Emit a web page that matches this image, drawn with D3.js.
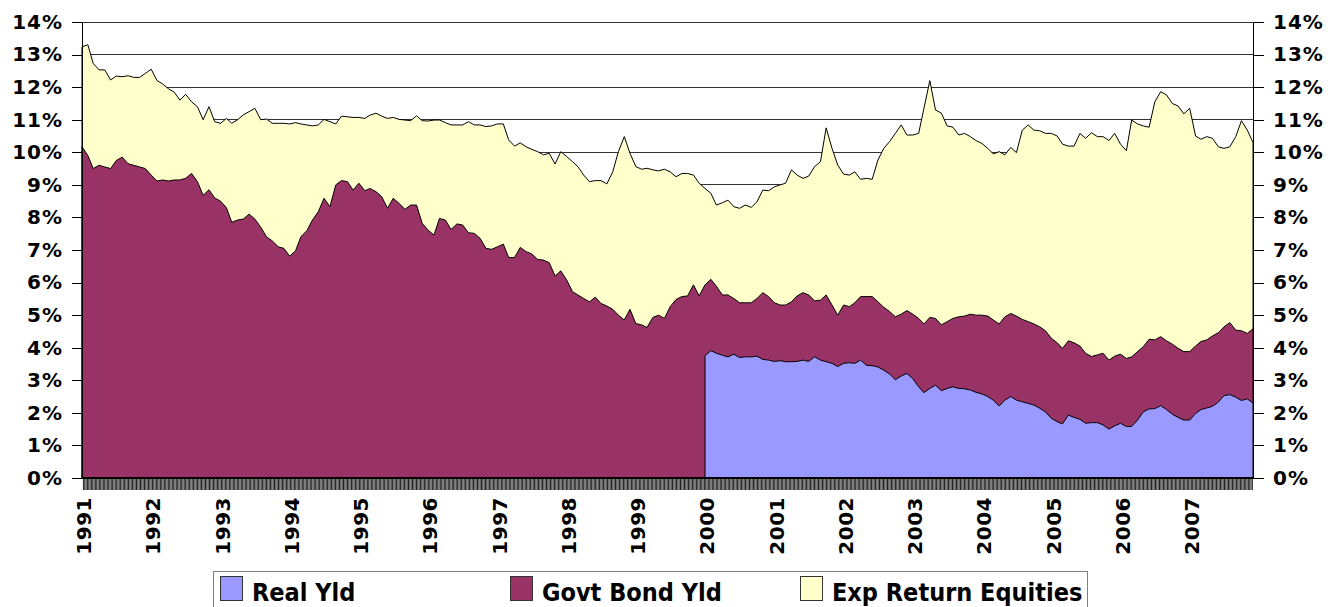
<!DOCTYPE html>
<html>
<head>
<meta charset="utf-8">
<script src="https://cdn.jsdelivr.net/npm/d3@7/dist/d3.min.js"></script>
<style>
    body { margin: 0; background: #fff; }
    svg text { font-family: "DejaVu Sans", Verdana, sans-serif; font-weight: bold; fill: #000; }
    .legend text { font-family: "DejaVu Sans Condensed", "DejaVu Sans", sans-serif; }
</style>
</head>
<body>
<svg id="chart" width="1342" height="607"></svg>
<script>
// monthly values, first month Jan 1991
var startMonth = new Date(1991, 0, 1);
// real yield series only starts in Jan 2000
var realStart = new Date(2000, 0, 1);

var expReturnEquities = [
    13.24, 13.3, 12.73, 12.53, 12.53, 12.22, 12.34, 12.32, 12.35, 12.3, 12.3, 12.42,
    12.55, 12.2, 12.1, 11.95, 11.85, 11.6, 11.78, 11.55, 11.4, 11.0, 11.4, 10.94,
    10.89, 11.04, 10.89, 11.0, 11.15, 11.25, 11.35, 11.0, 11.02, 10.89, 10.89, 10.89,
    10.87, 10.91, 10.87, 10.84, 10.81, 10.84, 11.01, 10.94, 10.87, 11.11, 11.09, 11.07,
    11.07, 11.04, 11.14, 11.2, 11.11, 11.04, 11.07, 11.01, 10.99, 10.97, 11.12, 10.97,
    10.96, 10.99, 10.99, 10.91, 10.84, 10.84, 10.84, 10.94, 10.84, 10.84, 10.79, 10.81,
    10.87, 10.87, 10.38, 10.19, 10.29, 10.17, 10.09, 10.02, 9.92, 9.97, 9.64, 10.02,
    9.87, 9.71, 9.56, 9.3, 9.1, 9.13, 9.13, 9.03, 9.4, 10.02, 10.48, 9.97,
    9.56, 9.48, 9.51, 9.46, 9.43, 9.48, 9.4, 9.25, 9.35, 9.35, 9.3, 9.05,
    8.89, 8.74, 8.38, 8.45, 8.53, 8.33, 8.28, 8.38, 8.31, 8.48, 8.84, 8.82,
    8.94, 9.0, 9.05, 9.46, 9.3, 9.2, 9.27, 9.56, 9.71, 10.75, 10.12, 9.61,
    9.33, 9.3, 9.4, 9.17, 9.2, 9.17, 9.76, 10.12, 10.33, 10.58, 10.84, 10.53,
    10.53, 10.58, 11.35, 12.2, 11.3, 11.2, 10.81, 10.77, 10.53, 10.58, 10.48, 10.36,
    10.27, 10.12, 9.95, 10.02, 9.92, 10.15, 9.99, 10.68, 10.84, 10.68, 10.66, 10.58,
    10.58, 10.5, 10.25, 10.19, 10.19, 10.58, 10.43, 10.6, 10.48, 10.48, 10.36, 10.58,
    10.25, 10.05, 10.99, 10.87, 10.81, 10.77, 11.55, 11.86, 11.76, 11.5, 11.42, 11.18,
    11.35, 10.5, 10.4, 10.48, 10.43, 10.17, 10.12, 10.17, 10.48, 10.97, 10.68, 10.3
];

var govtBondYld = [
    10.17, 9.9, 9.5, 9.6, 9.55, 9.5, 9.75, 9.85, 9.65, 9.6, 9.55, 9.5,
    9.3, 9.12, 9.15, 9.12, 9.15, 9.15, 9.2, 9.35, 9.1, 8.68, 8.85, 8.6,
    8.5, 8.3, 7.85, 7.92, 7.95, 8.1, 7.95, 7.7, 7.4, 7.28, 7.1, 7.05,
    6.81, 6.98, 7.41, 7.59, 7.92, 8.18, 8.59, 8.33, 9.0, 9.13, 9.1, 8.84,
    9.05, 8.82, 8.89, 8.79, 8.64, 8.28, 8.59, 8.43, 8.25, 8.38, 8.38, 7.82,
    7.61, 7.46, 7.97, 7.92, 7.63, 7.8, 7.77, 7.53, 7.51, 7.36, 7.05, 7.02,
    7.1, 7.18, 6.77, 6.77, 7.08, 6.95, 6.88, 6.71, 6.69, 6.61, 6.2, 6.36,
    6.08, 5.72, 5.62, 5.51, 5.41, 5.55, 5.36, 5.28, 5.18, 5.0, 4.85, 5.18,
    4.74, 4.7, 4.62, 4.93, 5.0, 4.9, 5.26, 5.48, 5.57, 5.59, 5.93, 5.59,
    5.93, 6.1, 5.89, 5.62, 5.62, 5.51, 5.38, 5.38, 5.38, 5.51, 5.69, 5.57,
    5.38, 5.31, 5.31, 5.41, 5.59, 5.69, 5.62, 5.44, 5.46, 5.62, 5.31, 5.0,
    5.31, 5.26, 5.38, 5.57, 5.57, 5.57, 5.41, 5.24, 5.11, 4.95, 5.03, 5.14,
    5.03, 4.9, 4.73, 4.93, 4.9, 4.7, 4.8, 4.9, 4.95, 4.97, 5.03, 5.0,
    5.0, 4.97, 4.85, 4.73, 4.95, 5.05, 4.97, 4.87, 4.8, 4.73, 4.64, 4.52,
    4.29, 4.15, 3.98, 4.21, 4.15, 4.05, 3.83, 3.73, 3.78, 3.83, 3.62, 3.74,
    3.8, 3.67, 3.72, 3.88, 4.03, 4.26, 4.24, 4.34, 4.21, 4.11, 3.98, 3.88,
    3.88, 4.05, 4.19, 4.24, 4.36, 4.46, 4.64, 4.77, 4.54, 4.52, 4.44, 4.58
];

var realYld = [
    3.75, 3.91, 3.83, 3.77, 3.72, 3.8, 3.7, 3.72, 3.72, 3.74, 3.64, 3.62,
    3.58, 3.6, 3.57, 3.57, 3.58, 3.62, 3.58, 3.72, 3.62, 3.57, 3.52, 3.42,
    3.52, 3.54, 3.52, 3.62, 3.46, 3.45, 3.41, 3.31, 3.19, 3.02, 3.13, 3.21,
    3.05, 2.8, 2.62, 2.75, 2.85, 2.68, 2.75, 2.8, 2.75, 2.74, 2.7, 2.63,
    2.58, 2.5, 2.39, 2.21, 2.39, 2.5, 2.39, 2.34, 2.29, 2.24, 2.14, 2.03,
    1.83, 1.73, 1.66, 1.93, 1.86, 1.8, 1.68, 1.7, 1.7, 1.63, 1.5, 1.6,
    1.68, 1.58, 1.58, 1.78, 2.03, 2.12, 2.13, 2.22, 2.1, 1.96, 1.86, 1.78,
    1.78, 1.98, 2.1, 2.15, 2.2, 2.33, 2.53, 2.56, 2.48, 2.38, 2.43, 2.3
];

var yTicks = [0, 1, 2, 3, 4, 5, 6, 7, 8, 9, 10, 11, 12, 13, 14];
var seriesNames = ["Real Yld", "Govt Bond Yld", "Exp Return Equities"];
var seriesColors = ["#9999ff", "#993366", "#ffffcc"];

var plotLeft = 82, plotRight = 1253, plotTop = 22, plotBottom = 478;
var svg = d3.select("#chart");

var months = d3.timeMonth.range(startMonth, d3.timeMonth.offset(startMonth, expReturnEquities.length));

var x = d3.scaleTime()
    .domain([months[0], months[months.length - 1]])
    .range([plotLeft, plotRight]);

var y = d3.scaleLinear().domain([0, 14]).range([plotBottom, plotTop]);

// gridlines
svg.append("g").selectAll("line")
    .data(yTicks.filter(function (d) { return d > 0; }))
    .enter().append("line")
    .attr("x1", plotLeft).attr("x2", plotRight)
    .attr("y1", function (d) { return y(d); })
    .attr("y2", function (d) { return y(d); })
    .attr("stroke", "#333")
    .attr("shape-rendering", "crispEdges");

function toPoints(values, start) {
    return values.map(function (v, i) {
        return { date: d3.timeMonth.offset(start, i), v: v };
    });
}

var area = d3.area()
    .x(function (d) { return x(d.date); })
    .y0(y(0))
    .y1(function (d) { return y(d.v); });

// drawn back to front: equities, govt bonds, real yield
var layers = [
    { data: toPoints(expReturnEquities, startMonth), color: seriesColors[2] },
    { data: toPoints(govtBondYld, startMonth), color: seriesColors[1] },
    { data: toPoints(realYld, realStart), color: seriesColors[0] }
];

svg.append("g").selectAll("path")
    .data(layers)
    .enter().append("path")
    .attr("d", function (d) { return area(d.data); })
    .attr("fill", function (d) { return d.color; })
    .attr("stroke", "#000")
    .attr("stroke-width", 1)
    .attr("stroke-linejoin", "round");

// dense weekly tick band under the plot
var weekAxis = svg.append("g")
    .attr("transform", "translate(0," + plotBottom + ")")
    .call(d3.axisBottom(x).ticks(d3.timeWeek.every(1)).tickSize(12).tickSizeOuter(0).tickFormat(""));
weekAxis.select(".domain").remove();
weekAxis.selectAll(".tick line").attr("stroke", "#222");

// year labels
var years = x.ticks(d3.timeYear.every(1));
svg.append("g").selectAll("text")
    .data(years)
    .enter().append("text")
    .attr("transform", function (d) { return "translate(" + (x(d) + 2) + ",497) rotate(-90)"; })
    .attr("text-anchor", "end")
    .attr("dy", "0.36em")
    .style("font-size", "20px")
    .style("letter-spacing", "0.5px")
    .text(d3.timeFormat("%Y"));

// left and right value axes
var fmt = function (d) { return d + "%"; };
var leftAxis = svg.append("g")
    .attr("transform", "translate(" + plotLeft + ",0)")
    .call(d3.axisLeft(y).tickValues(yTicks).tickSize(10).tickSizeOuter(0).tickPadding(9).tickFormat(fmt));
var rightAxis = svg.append("g")
    .attr("transform", "translate(" + plotRight + ",0)")
    .call(d3.axisRight(y).tickValues(yTicks).tickSize(11).tickSizeOuter(0).tickPadding(9).tickFormat(fmt));

[leftAxis, rightAxis].forEach(function (a) {
    a.attr("font-family", null).attr("font-size", null);
    a.selectAll("text").style("font-size", "20px").style("letter-spacing", "1px");
    a.selectAll("line, .domain").attr("stroke", "#000").attr("shape-rendering", "crispEdges");
});

// x baseline
svg.append("line")
    .attr("x1", plotLeft).attr("x2", plotRight)
    .attr("y1", plotBottom).attr("y2", plotBottom)
    .attr("stroke", "#000").attr("stroke-width", 2);

// legend
var legend = svg.append("g").attr("class", "legend");
legend.append("rect")
    .attr("x", 213.5).attr("y", 571.5)
    .attr("width", 874).attr("height", 45)
    .attr("fill", "#fff").attr("stroke", "#808080");

var legendItems = legend.selectAll("g.item")
    .data(seriesNames)
    .enter().append("g")
    .attr("class", "item")
    .attr("transform", function (d, i) { return "translate(" + (220 + i * 290) + ",576)"; });

legendItems.append("rect")
    .attr("x", 0.5).attr("y", 0.5)
    .attr("width", 22).attr("height", 24)
    .attr("fill", function (d, i) { return seriesColors[i]; })
    .attr("stroke", "#333");

legendItems.append("text")
    .attr("x", 32).attr("y", 25)
    .style("font-size", "25px")
    .text(function (d) { return d; });
</script>
</body>
</html>
